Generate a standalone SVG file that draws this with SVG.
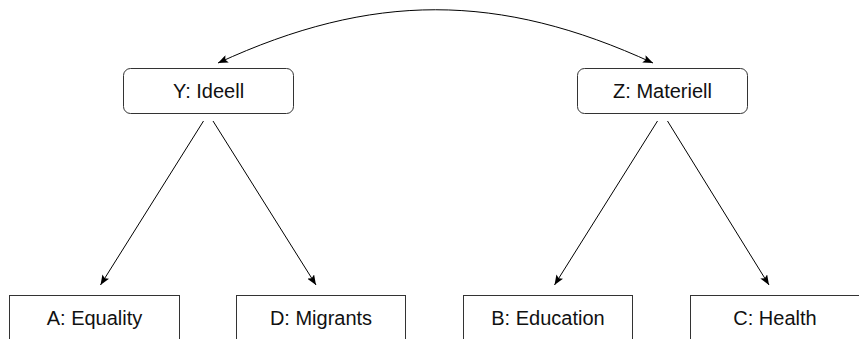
<svg xmlns="http://www.w3.org/2000/svg" width="859" height="339" viewBox="0 0 859 339">
  <style>
    .box { fill: #ffffff; stroke: #333333; stroke-width: 1; }
    .lbl { font-family: "Liberation Sans", Arial, sans-serif; font-size: 20px; fill: #111111; text-anchor: middle; }
    .edge { fill: none; stroke: #000000; stroke-width: 1; }
  </style>
  <defs>
    <marker id="arr" viewBox="0 0 10 8" refX="10" refY="4" markerWidth="10" markerHeight="8" markerUnits="userSpaceOnUse" orient="auto-start-reverse">
      <path d="M0,0 L10,4 L0,8 L2,4 Z" fill="#000000"/>
    </marker>
  </defs>
  <rect width="859" height="339" fill="#ffffff"/>
  <g id="connectors">
    <path class="edge" d="M218,63 C372,-8 499,-8 653,63" marker-start="url(#arr)" marker-end="url(#arr)"/>
    <line class="edge" x1="203.5" y1="121" x2="100.5" y2="285" marker-end="url(#arr)"/>
    <line class="edge" x1="213" y1="121" x2="316" y2="285" marker-end="url(#arr)"/>
    <line class="edge" x1="657.5" y1="121" x2="554.5" y2="285" marker-end="url(#arr)"/>
    <line class="edge" x1="667.5" y1="121" x2="769" y2="285" marker-end="url(#arr)"/>
  </g>
  <g id="Y">
    <rect class="box" x="123.5" y="68.5" width="170" height="45" rx="7"/>
    <text class="lbl" x="208.5" y="98">Y: Ideell</text>
  </g>
  <g id="Z">
    <rect class="box" x="577.5" y="68.5" width="170" height="45" rx="7"/>
    <text class="lbl" x="662.5" y="98">Z: Materiell</text>
  </g>
  <g id="A">
    <rect class="box" x="9.5" y="295.5" width="170" height="50"/>
    <text class="lbl" x="94.5" y="325">A: Equality</text>
  </g>
  <g id="D">
    <rect class="box" x="236.5" y="295.5" width="169" height="50"/>
    <text class="lbl" x="321" y="325">D: Migrants</text>
  </g>
  <g id="B">
    <rect class="box" x="463.5" y="295.5" width="169" height="50"/>
    <text class="lbl" x="548" y="325">B: Education</text>
  </g>
  <g id="C">
    <rect class="box" x="690.5" y="295.5" width="170" height="50"/>
    <text class="lbl" x="775" y="325">C: Health</text>
  </g>
</svg>
